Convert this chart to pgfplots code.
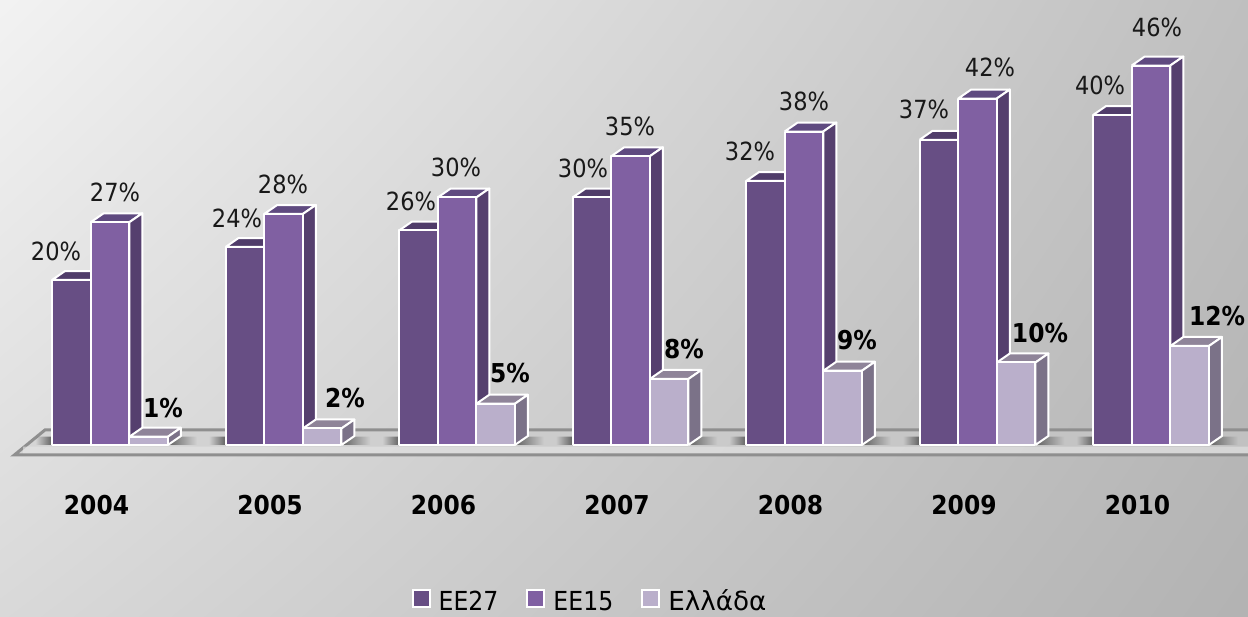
\documentclass[border=0pt]{standalone}
\usepackage{fontspec}
\setmainfont[FakeStretch=0.9]{DejaVu Sans}
\newfontfamily\grfont{DejaVu Sans}
\usepackage{pgfplots}
\pgfplotsset{compat=1.18}
\usetikzlibrary{fadings,shadings}

\definecolor{eefront}{HTML}{674E84}
\definecolor{eetop}{HTML}{503C6A}
\definecolor{eeside}{HTML}{4F3D68}
\definecolor{ofront}{HTML}{8060A2}
\definecolor{otop}{HTML}{5F4A80}
\definecolor{oside}{HTML}{553F6E}
\definecolor{grfront}{HTML}{BAAFCB}
\definecolor{grtop}{HTML}{8F8499}
\definecolor{grside}{HTML}{7B7288}
\definecolor{flooredge}{HTML}{8F8F8F}

% one 3D bar: left edge, value, front, top and side colours
\newcommand\bardd[5]{%
  \pgfmathsetmacro\xa{#1}
  \pgfmathsetmacro\xb{#1+0.2225}
  \pgfmathsetmacro\xc{#1+0.2225+0.075}
  \pgfmathsetmacro\xd{#1+0.075}
  \pgfmathsetmacro\yt{#2+1.09}
  \pgfmathsetmacro\yb{1.09}
  \edef\temp{%
    \noexpand\addplot[fill=#4,draw=white,line width=1pt,line join=round,forget plot]
      coordinates {(\xa,#2) (\xd,\yt) (\xc,\yt) (\xb,#2) (\xa,#2)};
    \noexpand\addplot[fill=#5,draw=white,line width=1pt,line join=round,forget plot]
      coordinates {(\xb,0) (\xc,\yb) (\xc,\yt) (\xb,#2) (\xb,0)};
    \noexpand\addplot[fill=#3,draw=white,line width=1pt,line join=round,forget plot]
      coordinates {(\xa,0) (\xa,#2) (\xb,#2) (\xb,0) (\xa,0)};
  }\temp
}
% one year: group position, then the three values
\newcommand\group[4]{%
  \pgfmathsetmacro\gl{#1-0.3338}
  \bardd{\gl}{#2}{eefront}{eetop}{eeside}
  \pgfmathsetmacro\gl{#1-0.1113}
  \bardd{\gl}{#3}{ofront}{otop}{oside}
  \pgfmathsetmacro\gl{#1+0.1113}
  \bardd{\gl}{#4}{grfront}{grtop}{grside}
}
% floor shadows on both sides of a group
\newcommand\shadow[1]{%
  \pgfmathsetmacro\sa{#1-0.43}
  \pgfmathsetmacro\sb{#1-0.3338}
  \pgfmathsetmacro\sc{#1+0.3338}
  \pgfmathsetmacro\sd{#1+0.50}
  \edef\temp{%
    \noexpand\addplot[fill=black!62,draw=none,path fading=west,forget plot]
      coordinates {(\sa,0) (\sa,1.0) (\sb,1.0) (\sb,0) (\sa,0)};
    \noexpand\addplot[fill=black!62,draw=none,path fading=east,forget plot]
      coordinates {(\sc,0) (\sc,1.0) (\sd,1.0) (\sd,0) (\sc,0)};
  }\temp
}
% value label at a position given in picture pixels
\newcommand\lbl[3]{\node[font=\fontsize{12.5}{13}\selectfont,text=black!90] at (axis description cs:{#1/1248},{1-#2/616}) {#3};}
\newcommand\lblb[3]{\node[font=\fontsize{13}{14}\selectfont\bfseries,text=black] at (axis description cs:{#1/1248},{1-#2/616}) {#3};}

\begin{document}
\begin{tikzpicture}
\shade[upper left=white!95!black, upper right=black!25, lower left=black!15, lower right=black!30]
  (0,0) rectangle (624pt,308pt);
\begin{axis}[
    at={(0,0)}, anchor=south west,
    scale only axis,
    width=624pt, height=308pt,
    xmin=-0.634, xmax=6.559,
    ymin=-20.73, ymax=53.94,
    axis line style={draw=none},
    tick style={draw=none},
    ytick=\empty,
    xtick={0,1,2,3,4,5,6},
    xticklabels={2004,2005,2006,2007,2008,2009,2010},
    xticklabel style={anchor=center, xshift=-6.75pt, yshift=55.5pt, font=\fontsize{13}{14}\selectfont\bfseries},
    legend style={at={(0.4736,0.0)}, anchor=south, yshift=0.5pt, draw=none, fill=none, legend columns=3,
        font=\fontsize{13.1}{14}\selectfont,
        inner sep=0pt, outer sep=0pt,
        nodes={text height=9.6pt, text depth=0.4pt},
        /tikz/every odd column/.append style={column sep=2pt},
        /tikz/every even column/.append style={column sep=12pt}},
    legend image code/.code={\draw[#1,line width=1pt] (0pt,-3.2pt) rectangle (8.5pt,5.3pt);},
]
% floor
\addplot[fill=black!20,fill opacity=0.5,draw=none,forget plot]
  coordinates {(-0.375,1.82) (-0.551,-1.21) (6.70,-1.21) (6.90,1.82) (-0.375,1.82)};
\addplot[draw=flooredge,line width=1.5pt,forget plot]
  coordinates {(6.90,1.82) (-0.375,1.82) (-0.551,-1.21) (6.70,-1.21) (6.90,1.82)};
\addplot[fill=black!10,fill opacity=0.6,draw=none,forget plot]
  coordinates {(-0.50,-0.2) (6.60,-0.2) (6.60,-1.0) (-0.50,-1.0) (-0.50,-0.2)};

\shadow{0}\shadow{1}\shadow{2}\shadow{3}\shadow{4}\shadow{5}\shadow{6}

\group{0}{20}{27}{1}
\group{1}{24}{28}{2}
\group{2}{26}{30}{5}
\group{3}{30}{35}{8}
\group{4}{32}{38}{9}
\group{5}{37}{42}{10}
\group{6}{40}{46}{12}

\lbl{56}{251}{20\%}   \lbl{115}{192}{27\%}  \lblb{163}{408}{1\%}
\lbl{237}{218}{24\%}  \lbl{283}{184}{28\%}  \lblb{345}{398}{2\%}
\lbl{411}{201}{26\%}  \lbl{456}{167}{30\%}  \lblb{510}{373}{5\%}
\lbl{583}{168}{30\%}  \lbl{630}{126}{35\%}  \lblb{684}{349}{8\%}
\lbl{750}{151}{32\%}  \lbl{804}{101}{38\%}  \lblb{857}{340}{9\%}
\lbl{924}{109}{37\%}  \lbl{990}{67}{42\%}   \lblb{1040}{333}{10\%}
\lbl{1100}{85}{40\%}  \lbl{1157}{27}{46\%}  \lblb{1217}{316}{12\%}

\addlegendimage{fill=eefront,draw=white}
\addlegendentry{EE27}
\addlegendimage{fill=ofront,draw=white}
\addlegendentry{EE15}
\addlegendimage{fill=grfront,draw=white}
\addlegendentry{\grfont Ελλάδα}
\end{axis}
\pgfresetboundingbox
\path (0,0) rectangle (624pt,308pt);
\end{tikzpicture}
\end{document}
